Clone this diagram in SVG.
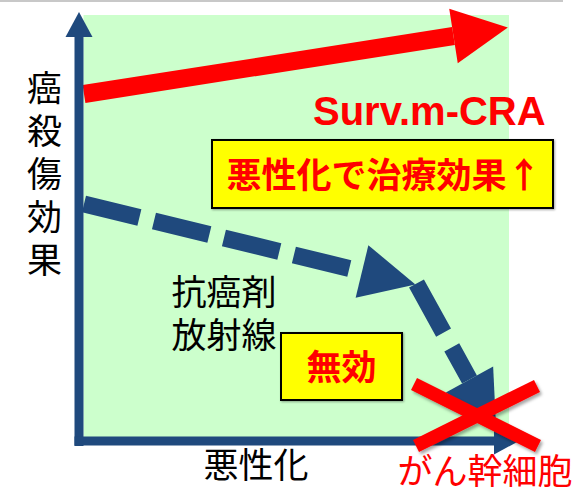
<svg xmlns="http://www.w3.org/2000/svg" width="587" height="489" viewBox="0 0 587 489">
  <style>
    .jp { font-family: "Noto Sans CJK JP", "Noto Sans", sans-serif; }
    .lbl { font-size: 35px; fill: #000; text-anchor: middle; }
    .hl { font-size: 35px; font-weight: bold; fill: #FF0000; text-anchor: middle; }
    .box { fill: #FFFF00; stroke: #000; stroke-width: 2; }
    .axis { stroke: #1F497D; stroke-width: 9; fill: none; }
    .dash { stroke: #1F497D; stroke-width: 17; fill: none; }
  </style>
  <defs>
    <marker id="axHead" markerUnits="userSpaceOnUse" viewBox="0 -14 26 28" refX="0" refY="0" markerWidth="26" markerHeight="28" orient="auto" overflow="visible">
      <path d="M0,-13.5 L25,0 L0,13.5 Z" fill="#1F497D"/>
    </marker>
    <marker id="blueHead" markerUnits="userSpaceOnUse" viewBox="0 -28 56 56" refX="0" refY="0" markerWidth="56" markerHeight="56" orient="auto" overflow="visible">
      <path d="M0,-27 L55,0 L0,27 Z" fill="#1F497D"/>
    </marker>
    <marker id="redHead" markerUnits="userSpaceOnUse" viewBox="0 -28 56 56" refX="0" refY="0" markerWidth="56" markerHeight="56" orient="auto" overflow="visible">
      <path d="M0,-27.5 L55,0 L0,27.5 Z" fill="#FF0000"/>
    </marker>
    <filter id="shadow" x="-20%" y="-20%" width="140%" height="140%">
      <feDropShadow dx="2" dy="2.5" stdDeviation="1.5" flood-color="#000" flood-opacity="0.35"/>
    </filter>
    <filter id="boxShadow" x="-10%" y="-10%" width="120%" height="130%">
      <feDropShadow dx="1" dy="1" stdDeviation="0.8" flood-color="#000" flood-opacity="0.35"/>
    </filter>
  </defs>

  <g id="background">
    <rect x="83.5" y="15" width="425.5" height="422" fill="#CCFFCC"/>
    <line x1="0" y1="1" x2="563" y2="1" stroke="#C8C8C8" stroke-width="2"/>
  </g>

  <g id="connectors">
    <line id="surv-arrow" x1="84" y1="94" x2="453.5" y2="36" stroke="#FF0000" stroke-width="18" marker-end="url(#redHead)"/>
    <line id="conv-arrow-1" class="dash" x1="84" y1="204" x2="362" y2="271.5" stroke-dasharray="57 15" marker-end="url(#blueHead)"/>
    <line id="conv-arrow-2" class="dash" x1="416.5" y1="283.5" x2="469.5" y2="379.5" stroke-dasharray="56 17" marker-end="url(#blueHead)"/>
    <line id="y-axis" class="axis" x1="79" y1="446" x2="79" y2="37" marker-end="url(#axHead)"/>
    <line id="x-axis" class="axis" x1="74.5" y1="441" x2="494" y2="441" marker-end="url(#axHead)"/>
  </g>

  <g id="y-label">
    <text class="jp" x="44.5" y="70" font-size="35" fill="#000" writing-mode="vertical-rl" letter-spacing="8">癌殺傷効果</text>
  </g>

  <g id="x-label">
    <text class="jp lbl" x="256" y="478">悪性化</text>
  </g>

  <g id="stem-label">
    <text class="jp" x="485" y="484" font-size="35" fill="#FF0000" text-anchor="middle">がん幹細胞</text>
  </g>

  <g id="treatment-label">
    <text class="jp lbl" x="224" y="305">抗癌剤<tspan x="224" y="348">放射線</tspan></text>
  </g>

  <g id="surv-label">
    <text x="313" y="125" font-family="Liberation Sans, Arial, sans-serif" font-size="40" font-weight="bold" fill="#FF0000">Surv.m-CRA</text>
  </g>

  <g id="box-effect">
    <rect class="box" x="212" y="140" width="341" height="68" filter="url(#boxShadow)"/>
    <text class="jp hl" x="384" y="187.5">悪性化で治療効果↑</text>
  </g>

  <g id="box-invalid">
    <rect class="box" x="281" y="333" width="121" height="67" filter="url(#boxShadow)"/>
    <text class="jp hl" x="341.5" y="379.5" font-size="36">無効</text>
  </g>

  <g id="cross" filter="url(#shadow)" stroke="#FF0000" stroke-width="13.5">
    <line x1="414" y1="384" x2="538" y2="446"/>
    <line x1="537" y1="386" x2="416" y2="446"/>
  </g>
</svg>
